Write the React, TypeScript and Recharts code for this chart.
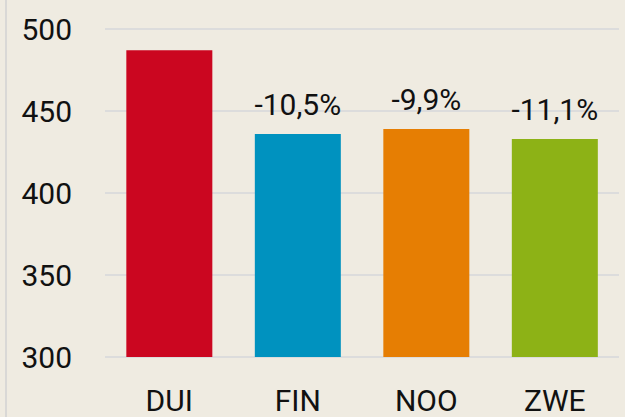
import { BarChart, Bar, XAxis, YAxis, CartesianGrid, Cell, LabelList } from "recharts"

const regions = ["DUI", "FIN", "NOO", "ZWE"]
const scores = [487, 436, 439, 433]
const changes = ["", "-10,5%", "-9,9%", "-11,1%"]
const colors = ["#cb0620", "#0092bf", "#e67e03", "#8db216"]
const yTicks = [300, 350, 400, 450, 500]

const data = regions.map((region, i) => ({ region, score: scores[i], change: changes[i] }))

const font = "Roboto, 'DejaVu Sans', sans-serif"

function XTick(props: any) {
  const { x, y, payload } = props
  return (
    <text x={x} y={y + 54} textAnchor="middle" fontSize={30} fontFamily={font} fill="#111">
      {payload.value}
    </text>
  )
}

function YTick(props: any) {
  const { x, y, payload } = props
  return (
    <text x={x - 33} y={y} dy="0.36em" textAnchor="end" fontSize={30} fontFamily={font} fill="#111">
      {payload.value}
    </text>
  )
}

export default function App() {
  return (
    <div style={{ position: "fixed", left: 0, top: 0, width: 625, height: 417, background: "#efebe1" }}>
      <div style={{ position: "absolute", left: 5, top: 0, width: 2, height: 417, background: "#d9d8d6" }} />
      <BarChart
        width={625}
        height={417}
        data={data}
        margin={{ top: 29, right: 6, bottom: 0, left: 0 }}
        barCategoryGap="16.6%"
      >
        <CartesianGrid vertical={false} stroke="#dcdcdc" strokeWidth={2} />
        <XAxis
          dataKey="region"
          height={60}
          axisLine={false}
          tickLine={false}
          tickSize={0}
          tickMargin={0}
          tick={<XTick />}
        />
        <YAxis
          domain={[300, 500]}
          ticks={yTicks}
          width={105}
          axisLine={false}
          tickLine={false}
          tickSize={0}
          tickMargin={0}
          tick={<YTick />}
        />
        <Bar dataKey="score" isAnimationActive={false}>
          {data.map((d, i) => (
            <Cell key={d.region} fill={colors[i]} />
          ))}
          <LabelList dataKey="change" position="top" offset={19} fontSize={30} fontFamily={font} fill="#111" />
        </Bar>
      </BarChart>
    </div>
  )
}
